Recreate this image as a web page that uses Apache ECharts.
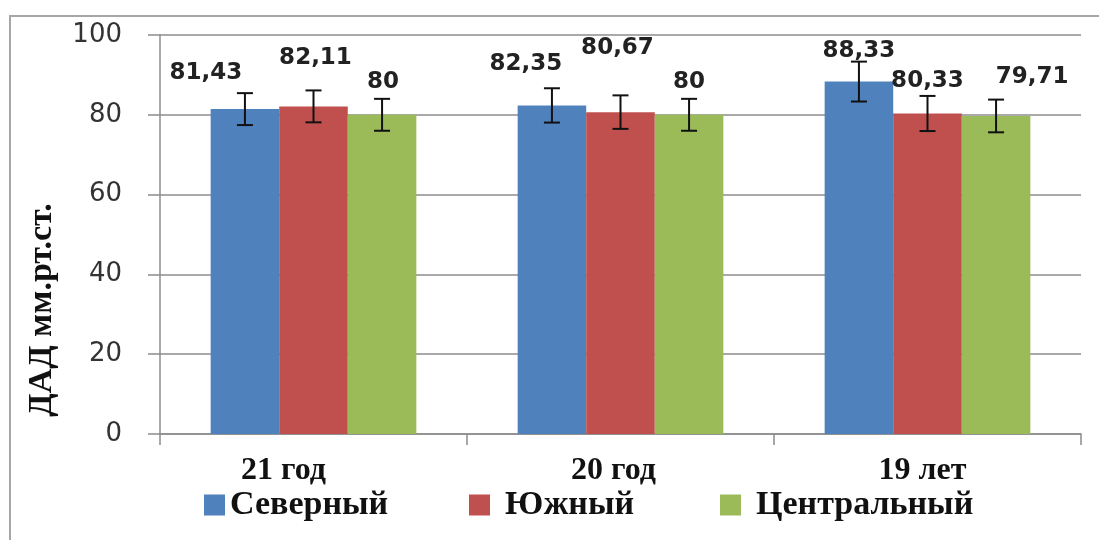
<!DOCTYPE html>
<html>
<head>
<meta charset="utf-8">
<script src="https://cdn.jsdelivr.net/npm/echarts@6/dist/echarts.min.js"></script>
<style>
  html, body { margin: 0; padding: 0; background: #fff; }
  #chart { width: 1099px; height: 540px; }
</style>
</head>
<body>
<div id="chart"></div>
<script>
const categories = ['21 год', '20 год', '19 лет']
const seriesNames = ['Северный', 'Южный', 'Центральный']
const severny = [81.43, 82.35, 88.33]
const yuzhny = [82.11, 80.67, 80.33]
const centralny = [80, 80, 79.71]
const severnyErr = [4, 4.3, 5]
const yuzhnyErr = [4, 4.2, 4.4]
const centralnyErr = [4, 4, 4.1]
const yMin = 0
const yMax = 100
const yStep = 20

const colors = ['#4F81BD', '#C0504D', '#9BBB59']
const gapPct = 33

// label nudges, as placed by hand in the original
const labelShift = [
  [[-39, -25], [-26, -30], [0, -19]],
  [[2, -37], [-3, -53], [0, -21]],
  [[1, -21], [0, -21], [36, -27]]
]
const catShift = [30, 7, 5]

const values = [severny, yuzhny, centralny]
const errors = [severnyErr, yuzhnyErr, centralnyErr]

const chart = echarts.init(document.getElementById('chart'))

function fmt (v) {
  return String(v).replace('.', ',')
}

const barSeries = values.map(function (vals, s) {
  return {
    name: seriesNames[s],
    type: 'bar',
    barGap: 0,
    barCategoryGap: gapPct + '%',
    itemStyle: { color: colors[s] },
    data: vals.map(function (v, i) {
      return {
        value: v,
        label: {
          show: true,
          position: 'top',
          distance: 0,
          offset: labelShift[s][i],
          formatter: function (p) { return fmt(p.value) },
          fontFamily: 'DejaVu Sans',
          fontWeight: 'bold',
          fontSize: 23,
          color: '#222'
        }
      }
    })
  }
})

const errSeries = errors.map(function (errs, s) {
  return {
    type: 'custom',
    silent: true,
    z: 5,
    data: errs.map(function (e, i) { return [i, values[s][i], e] }),
    renderItem: function (params, api) {
      const i = api.value(0)
      const v = api.value(1)
      const e = api.value(2)
      const band = api.size([1, 0])[0]
      const bw = band * (1 - gapPct / 100) / 3
      const dx = (s - 1) * bw
      const hi = api.coord([i, v + e])
      const lo = api.coord([i, v - e])
      const x = hi[0] + dx
      const cap = 8
      const st = { stroke: '#111', lineWidth: 2 }
      return {
        type: 'group',
        children: [
          { type: 'line', shape: { x1: x, y1: hi[1], x2: x, y2: lo[1] }, style: st },
          { type: 'line', shape: { x1: x - cap, y1: hi[1], x2: x + cap, y2: hi[1] }, style: st },
          { type: 'line', shape: { x1: x - cap, y1: lo[1], x2: x + cap, y2: lo[1] }, style: st }
        ]
      }
    }
  }
})

const legendText = {
  fontFamily: 'Liberation Serif',
  fontWeight: 'bold',
  fontSize: 34,
  color: '#111'
}
const legendLeft = [199, 464, 715]
const legendPad = [0, 10, 10]

const option = {
  animation: false,
  backgroundColor: '#fff',
  graphic: [
    {
      type: 'rect',
      shape: { x: 10, y: 16, width: 1200, height: 600 },
      style: { fill: null, stroke: '#a6a6a6', lineWidth: 2 },
      silent: true
    },
    {
      type: 'text',
      x: 42,
      y: 310,
      rotation: Math.PI / 2,
      style: {
        text: 'ДАД мм.рт.ст.',
        fontFamily: 'Liberation Serif',
        fontWeight: 'bold',
        fontSize: 34,
        fill: '#111',
        align: 'center',
        verticalAlign: 'middle'
      }
    }
  ],
  legend: seriesNames.map(function (n, k) {
    return {
      data: [n],
      left: legendLeft[k],
      top: 483,
      icon: 'rect',
      itemWidth: 21,
      itemHeight: 21,
      itemGap: 0,
      textStyle: Object.assign({ padding: [0, 0, 0, legendPad[k]] }, legendText)
    }
  }),
  grid: {
    left: 160,
    right: 18,
    top: 35,
    bottom: 106
  },
  xAxis: {
    type: 'category',
    data: categories.map(function (c, i) {
      return { value: c, textStyle: { padding: [0, catShift[i] * 2, 0, 0] } }
    }),
    axisLine: { lineStyle: { color: '#8c8c8c', width: 1.5 } },
    axisTick: { show: true, length: 11, lineStyle: { color: '#8c8c8c', width: 1.5 } },
    axisLabel: {
      margin: 21,
      fontFamily: 'Liberation Serif',
      fontWeight: 'bold',
      fontSize: 32,
      color: '#111'
    }
  },
  yAxis: {
    type: 'value',
    min: yMin,
    max: yMax,
    interval: yStep,
    axisLine: { show: true, lineStyle: { color: '#8c8c8c', width: 1.5 } },
    axisTick: { show: true, length: 12, lineStyle: { color: '#8c8c8c', width: 1.5 } },
    splitLine: { lineStyle: { color: '#8c8c8c', width: 1.5 } },
    axisLabel: {
      margin: 38,
      fontFamily: 'DejaVu Sans',
      fontSize: 26,
      color: '#333'
    }
  },
  series: barSeries.concat(errSeries)
}

chart.setOption(option)
</script>
</body>
</html>
